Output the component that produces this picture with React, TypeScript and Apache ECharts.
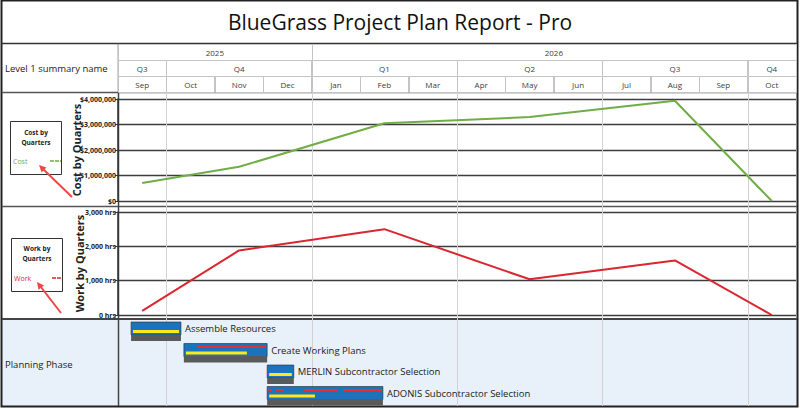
import React, { useEffect, useRef } from 'react';
import * as echarts from 'echarts';

// ---------- data ----------
const titleText = 'BlueGrass Project Plan Report - Pro';
const months = ['Sep', 'Oct', 'Nov', 'Dec', 'Jan', 'Feb', 'Mar', 'Apr', 'May', 'Jun', 'Jul', 'Aug', 'Sep', 'Oct'];
const yearLabels = ['2025', '2026'];
const yearSpans = [4, 10];
const quarterLabels = ['Q3', 'Q4', 'Q1', 'Q2', 'Q3', 'Q4'];
const quarterSpans = [1, 3, 3, 3, 3, 1];
const costValues = [710000, 1340000, 3050000, 3290000, 3930000, 0];
const workValues = [120, 1880, 2500, 1040, 1590, 0];
const phaseName = 'Planning Phase';
const taskNames = [
  'Assemble Resources',
  'Create Working Plans',
  'MERLIN Subcontractor Selection',
  'ADONIS Subcontractor Selection',
];
const taskStart = [0.27, 1.36, 3.08, 3.08];
const taskEnd = [1.3, 3.08, 3.63, 5.47];
const taskProgress = [1, 0.77, 1, 0.41];
const taskRedSegments: number[][][] = [
  [],
  [[1.63, 3.06]],
  [],
  [[3.1, 3.18], [3.26, 3.41], [3.82, 4.54], [4.65, 5.45]],
];

// ---------- derived ----------
const FONT = 'Open Sans';
const headerCells: number[][] = [];
const headerLabels: string[] = [];
{
  let s = 0;
  yearLabels.forEach((l, i) => { headerCells.push([s, s + yearSpans[i], 0]); headerLabels.push(l); s += yearSpans[i]; });
  s = 0;
  quarterLabels.forEach((l, i) => { headerCells.push([s, s + quarterSpans[i], 1]); headerLabels.push(l); s += quarterSpans[i]; });
  months.forEach((m, i) => { headerCells.push([i, i + 1, 2]); headerLabels.push(m); });
}
const quarterBoundaries: number[] = [];
const quarterMid: number[] = [];
{
  let s = 0;
  quarterSpans.forEach((sp) => {
    if (s > 0) quarterBoundaries.push(s);
    quarterMid.push(s + Math.floor(sp / 2) + 0.5);
    s += sp;
  });
}
const costData = costValues.map((v, i) => [quarterMid[i], v]);
const workData = workValues.map((v, i) => [quarterMid[i], v]);
const taskData = taskNames.map((_, i) => [taskStart[i], taskEnd[i], i, taskProgress[i]]);

const quarterLineSeries = (gridIdx: number, ext: number) => ({
  type: 'custom',
  xAxisIndex: gridIdx,
  yAxisIndex: gridIdx,
  z: 1,
  silent: true,
  data: quarterBoundaries.map((v) => [v, 0]),
  renderItem: (params: any, api: any) => {
    const cs = params.coordSys;
    const x = Math.round(api.coord([api.value(0), 0])[0]) + 0.5;
    return {
      type: 'line',
      shape: { x1: x, y1: cs.y - ext, x2: x, y2: cs.y + cs.height + ext },
      style: { stroke: '#d2d2d2', lineWidth: 1 },
    };
  },
});

export default function App() {
  const ref = useRef<HTMLDivElement>(null);
  useEffect(() => {
    if (!ref.current) return;
    const chart = echarts.init(ref.current, undefined, { renderer: 'svg' });
    const L = 118;
    const R = 4;
    const xAxisBase = { type: 'value', min: 0, max: months.length, show: false };
    const yLabelStyle = { fontSize: 7, fontWeight: 'bold', color: '#222', margin: 2, fontFamily: FONT };
    const option: any = {
      animation: false,
      backgroundColor: '#ffffff',
      grid: [
        { left: L, right: R, top: 44, height: 48 },
        { left: L, right: R, top: 99, height: 102 },
        { left: L, right: R, top: 212, height: 103 },
        { left: L, right: R, top: 320, height: 86 },
      ],
      xAxis: [
        { ...xAxisBase, gridIndex: 0 },
        { ...xAxisBase, gridIndex: 1 },
        { ...xAxisBase, gridIndex: 2 },
        { ...xAxisBase, gridIndex: 3 },
      ],
      yAxis: [
        { type: 'value', gridIndex: 0, min: 0, max: 3, inverse: true, show: false },
        {
          type: 'value', gridIndex: 1, min: 0, max: 4000000, interval: 1000000,
          name: 'Cost by Quarters', nameLocation: 'middle', nameGap: 36, nameRotate: 90,
          nameMoveOverlap: false,
          nameTextStyle: { fontSize: 11, fontWeight: 'bold', color: '#222', fontFamily: FONT },
          axisLine: { show: true, lineStyle: { color: '#333', width: 1.5 } },
          axisTick: { show: true, length: 3, lineStyle: { color: '#333' } },
          axisLabel: { ...yLabelStyle, formatter: (v: number) => '$' + v.toLocaleString('en-US') },
          splitLine: { show: true, lineStyle: { color: '#3c3c3c', width: 1.3 } },
        },
        {
          type: 'value', gridIndex: 2, min: 0, max: 3000, interval: 1000,
          name: 'Work by Quarters', nameLocation: 'middle', nameGap: 33, nameRotate: 90,
          nameMoveOverlap: false,
          nameTextStyle: { fontSize: 11, fontWeight: 'bold', color: '#222', fontFamily: FONT },
          axisLine: { show: true, lineStyle: { color: '#333', width: 1.5 } },
          axisTick: { show: true, length: 3, lineStyle: { color: '#333' } },
          axisLabel: { ...yLabelStyle, formatter: (v: number) => v.toLocaleString('en-US') + ' hrs' },
          splitLine: { show: true, lineStyle: { color: '#3c3c3c', width: 1.3 } },
        },
        { type: 'category', gridIndex: 3, data: taskNames, inverse: true, show: false },
      ],
      series: [
        {
          type: 'custom',
          name: 'header',
          xAxisIndex: 0,
          yAxisIndex: 0,
          silent: true,
          data: headerCells,
          renderItem: (params: any, api: any) => {
            const i = params.dataIndex;
            const p0 = api.coord([api.value(0), api.value(2)]);
            const p1 = api.coord([api.value(1), api.value(2) + 1]);
            return {
              type: 'group',
              children: [
                {
                  type: 'rect',
                  shape: { x: Math.round(p0[0]) + 0.5, y: Math.round(p0[1]) + 0.5, width: Math.round(p1[0] - p0[0]), height: Math.round(p1[1] - p0[1]) },
                  style: { fill: '#fff', stroke: '#c4c4c4', lineWidth: 1 },
                },
                {
                  type: 'text',
                  style: {
                    text: headerLabels[i], x: (p0[0] + p1[0]) / 2, y: (p0[1] + p1[1]) / 2 + 0.5,
                    align: 'center', verticalAlign: 'middle', fontSize: 8, fill: '#404040', fontFamily: FONT,
                  },
                },
              ],
            };
          },
        },
        quarterLineSeries(1, 7),
        quarterLineSeries(2, 6),
        quarterLineSeries(3, 0),
        {
          type: 'line', name: 'Cost', xAxisIndex: 1, yAxisIndex: 1, data: costData,
          symbol: 'none', lineStyle: { color: '#70ad47', width: 2 }, z: 3,
        },
        {
          type: 'line', name: 'Work', xAxisIndex: 2, yAxisIndex: 2, data: workData,
          symbol: 'none', lineStyle: { color: '#d9262f', width: 2 }, z: 3,
        },
        {
          type: 'custom',
          name: 'tasks',
          xAxisIndex: 3,
          yAxisIndex: 3,
          z: 3,
          data: taskData,
          renderItem: (params: any, api: any) => {
            const i = params.dataIndex;
            const c0 = api.coord([api.value(0), api.value(2)]);
            const c1 = api.coord([api.value(1), api.value(2)]);
            const band = api.size([0, 1])[1];
            const top = c0[1] - band / 2;
            const x0 = c0[0];
            const w = c1[0] - c0[0];
            const prog = api.value(3);
            const children: any[] = [
              { type: 'rect', shape: { x: x0, y: top + 2, width: w, height: 13 }, style: { fill: '#1c72bd', stroke: '#2a2a2a', lineWidth: 0.6 } },
              { type: 'rect', shape: { x: x0, y: top + 15, width: w, height: 6 }, style: { fill: '#5a5a5a' } },
              { type: 'rect', shape: { x: x0 + 2, y: top + 10, width: (w - 4) * prog, height: 3 }, style: { fill: '#ffe81a' } },
            ];
            taskRedSegments[i].forEach((seg) => {
              const a = api.coord([seg[0], 0])[0];
              const b = api.coord([seg[1], 0])[0];
              children.push({ type: 'rect', shape: { x: a, y: top + 4.5, width: b - a, height: 2 }, style: { fill: '#e0303a' } });
            });
            children.push({
              type: 'text',
              style: {
                text: taskNames[i], x: c1[0] + 4, y: top + 8.5, align: 'left', verticalAlign: 'middle',
                fontSize: 9.5, fill: '#1a1a1a', fontFamily: FONT,
              },
            });
            return { type: 'group', children };
          },
        },
      ],
      graphic: [
        { type: 'rect', z: -10, shape: { x: 2, y: 319, width: 795, height: 87 }, style: { fill: '#e8f1f9' } },
        { type: 'rect', shape: { x: 1.5, y: 0.5, width: 796, height: 406 }, style: { fill: 'none', stroke: '#222', lineWidth: 2 } },
        {
          type: 'text', style: {
            text: titleText, x: 400, y: 22, align: 'center', verticalAlign: 'middle',
            fontSize: 21, fill: '#111', fontFamily: FONT,
          },
        },
        { type: 'line', shape: { x1: 2, y1: 43.5, x2: 797, y2: 43.5 }, style: { stroke: '#333', lineWidth: 1.5 } },
        { type: 'line', shape: { x1: 2, y1: 92.5, x2: 797, y2: 92.5 }, style: { stroke: '#555', lineWidth: 1.5 } },
        { type: 'line', shape: { x1: 2, y1: 206.5, x2: 797, y2: 206.5 }, style: { stroke: '#555', lineWidth: 1.5 } },
        { type: 'line', shape: { x1: 2, y1: 319, x2: 797, y2: 319 }, style: { stroke: '#444', lineWidth: 2 } },
        { type: 'line', shape: { x1: 118.5, y1: 43, x2: 118.5, y2: 406 }, style: { stroke: '#444', lineWidth: 1.5 } },
        {
          type: 'text', style: {
            text: 'Level 1 summary name', x: 5, y: 68, align: 'left', verticalAlign: 'middle',
            fontSize: 9.5, fill: '#222', fontFamily: FONT,
          },
        },
        {
          type: 'text', style: {
            text: phaseName, x: 5, y: 364, align: 'left', verticalAlign: 'middle',
            fontSize: 9.5, fill: '#222', fontFamily: FONT,
          },
        },
        // Cost legend box
        { type: 'rect', shape: { x: 10.5, y: 121.5, width: 51, height: 53 }, style: { fill: '#fff', stroke: '#333', lineWidth: 1 } },
        { type: 'text', style: { text: 'Cost by', x: 36, y: 132, align: 'center', verticalAlign: 'middle', fontSize: 6.5, fontWeight: 'bold', fill: '#222', fontFamily: FONT } },
        { type: 'text', style: { text: 'Quarters', x: 36, y: 142, align: 'center', verticalAlign: 'middle', fontSize: 6.5, fontWeight: 'bold', fill: '#222', fontFamily: FONT } },
        { type: 'text', style: { text: 'Cost', x: 13, y: 161, align: 'left', verticalAlign: 'middle', fontSize: 7, fill: '#70ad47', fontFamily: FONT } },
        { type: 'line', shape: { x1: 50, y1: 161, x2: 61, y2: 161 }, style: { stroke: '#70ad47', lineWidth: 1.5, lineDash: [4, 1] } },
        { type: 'line', shape: { x1: 72, y1: 197, x2: 43, y2: 169 }, style: { stroke: '#f04646', lineWidth: 2 } },
        { type: 'polygon', shape: { points: [[39, 165], [46.4, 167.4], [41.6, 172.4]] }, style: { fill: '#f04646' } },
        // Work legend box
        { type: 'rect', shape: { x: 11.5, y: 238.5, width: 51, height: 53 }, style: { fill: '#fff', stroke: '#333', lineWidth: 1 } },
        { type: 'text', style: { text: 'Work by', x: 37, y: 248, align: 'center', verticalAlign: 'middle', fontSize: 6.5, fontWeight: 'bold', fill: '#222', fontFamily: FONT } },
        { type: 'text', style: { text: 'Quarters', x: 37, y: 258, align: 'center', verticalAlign: 'middle', fontSize: 6.5, fontWeight: 'bold', fill: '#222', fontFamily: FONT } },
        { type: 'text', style: { text: 'Work', x: 14, y: 278, align: 'left', verticalAlign: 'middle', fontSize: 7, fill: '#d9262f', fontFamily: FONT } },
        { type: 'line', shape: { x1: 52, y1: 278, x2: 62, y2: 278 }, style: { stroke: '#d9262f', lineWidth: 1.5, lineDash: [4, 1] } },
        { type: 'line', shape: { x1: 61, y1: 313, x2: 40.5, y2: 286.5 }, style: { stroke: '#f04646', lineWidth: 2 } },
        { type: 'polygon', shape: { points: [[37, 282], [44.1, 285.4], [38.5, 289.7]] }, style: { fill: '#f04646' } },
      ],
    };
    chart.setOption(option);
    return () => chart.dispose();
  }, []);
  return (
    <div
      ref={ref}
      style={{ position: 'fixed', left: 0, top: 0, width: 800, height: 408 }}
    />
  );
}
